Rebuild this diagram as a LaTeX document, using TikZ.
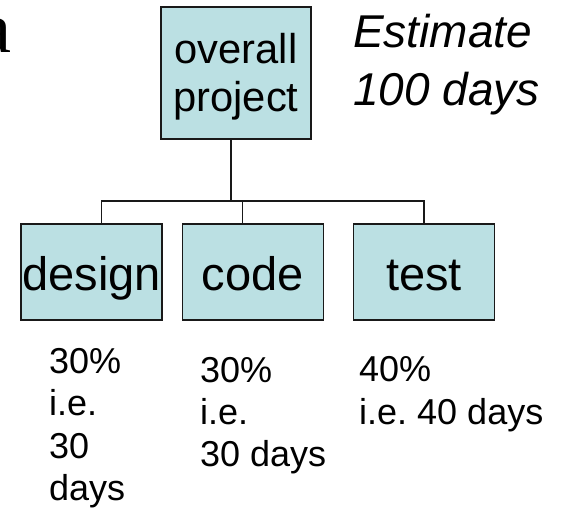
\documentclass[tikz,border=0pt]{standalone}
\usepackage{fontspec}
\setmainfont{Liberation Sans}
\newfontfamily\titlefont{Liberation Serif}
\usetikzlibrary{positioning}
\definecolor{boxfill}{RGB}{187,224,227}
\frenchspacing

\begin{document}
\begin{tikzpicture}[x=1pt, y=1pt, node distance = 0pt and 19pt,
    box/.style={rectangle,inner sep=0pt,line width=1.2pt,draw=black!90,fill=boxfill},
    task/.style={box,minimum width=141pt,minimum height=96pt,text height=48pt,text depth=10pt,font=\fontsize{47}{50}\selectfont},
    note/.style={anchor=base west,align=left,inner sep=0pt,font=\fontsize{36}{42.5}\selectfont},
    link/.style={line width=1.2pt,black!90},
   ]

    \useasboundingbox (0,0) rectangle (563,512);

    \node (title) [anchor=base west,inner sep=0pt,font=\titlefont\fontsize{72}{80}\selectfont] at (-21,459) {a};

    \node (overall) [box,minimum width=150pt,minimum height=132pt,align=center,font=\fontsize{41.7}{48}\selectfont] at (236,439) {\rule{0pt}{38pt}overall\\project};
    % base of a multi-line node is its last line
    \node (estimate) [note,font=\itshape\fontsize{46}{58}\selectfont] at (353,406) {Estimate\\100 days};

    \node (design) [task] at (91.5,240) {design};
    \node (code)   [task,right=of design] {code};
    \node (test)   [task,right=29pt of code] {test};

    \node (design_note) [note] at (49,11.5) {30\%\\i.e.\\30\\days};
    \node (code_note)   [note] at (200,45) {30\%\\i.e.\\30 days};
    \node (test_note)   [note] at (359,87.5) {40\%\\i.e. 40 days};

    \coordinate (bus) at (0,311);
    \draw[link] ([xshift=-5pt]overall.south) -- ([xshift=-5pt]overall.south |- bus);
    \draw[link] ([xshift=10pt]design.north) |- (bus -| test.north) -- (test.north);
    \draw[link] ([xshift=-10pt]code.north) -- ([xshift=-10pt]code.north |- bus);
\end{tikzpicture}
\end{document}
